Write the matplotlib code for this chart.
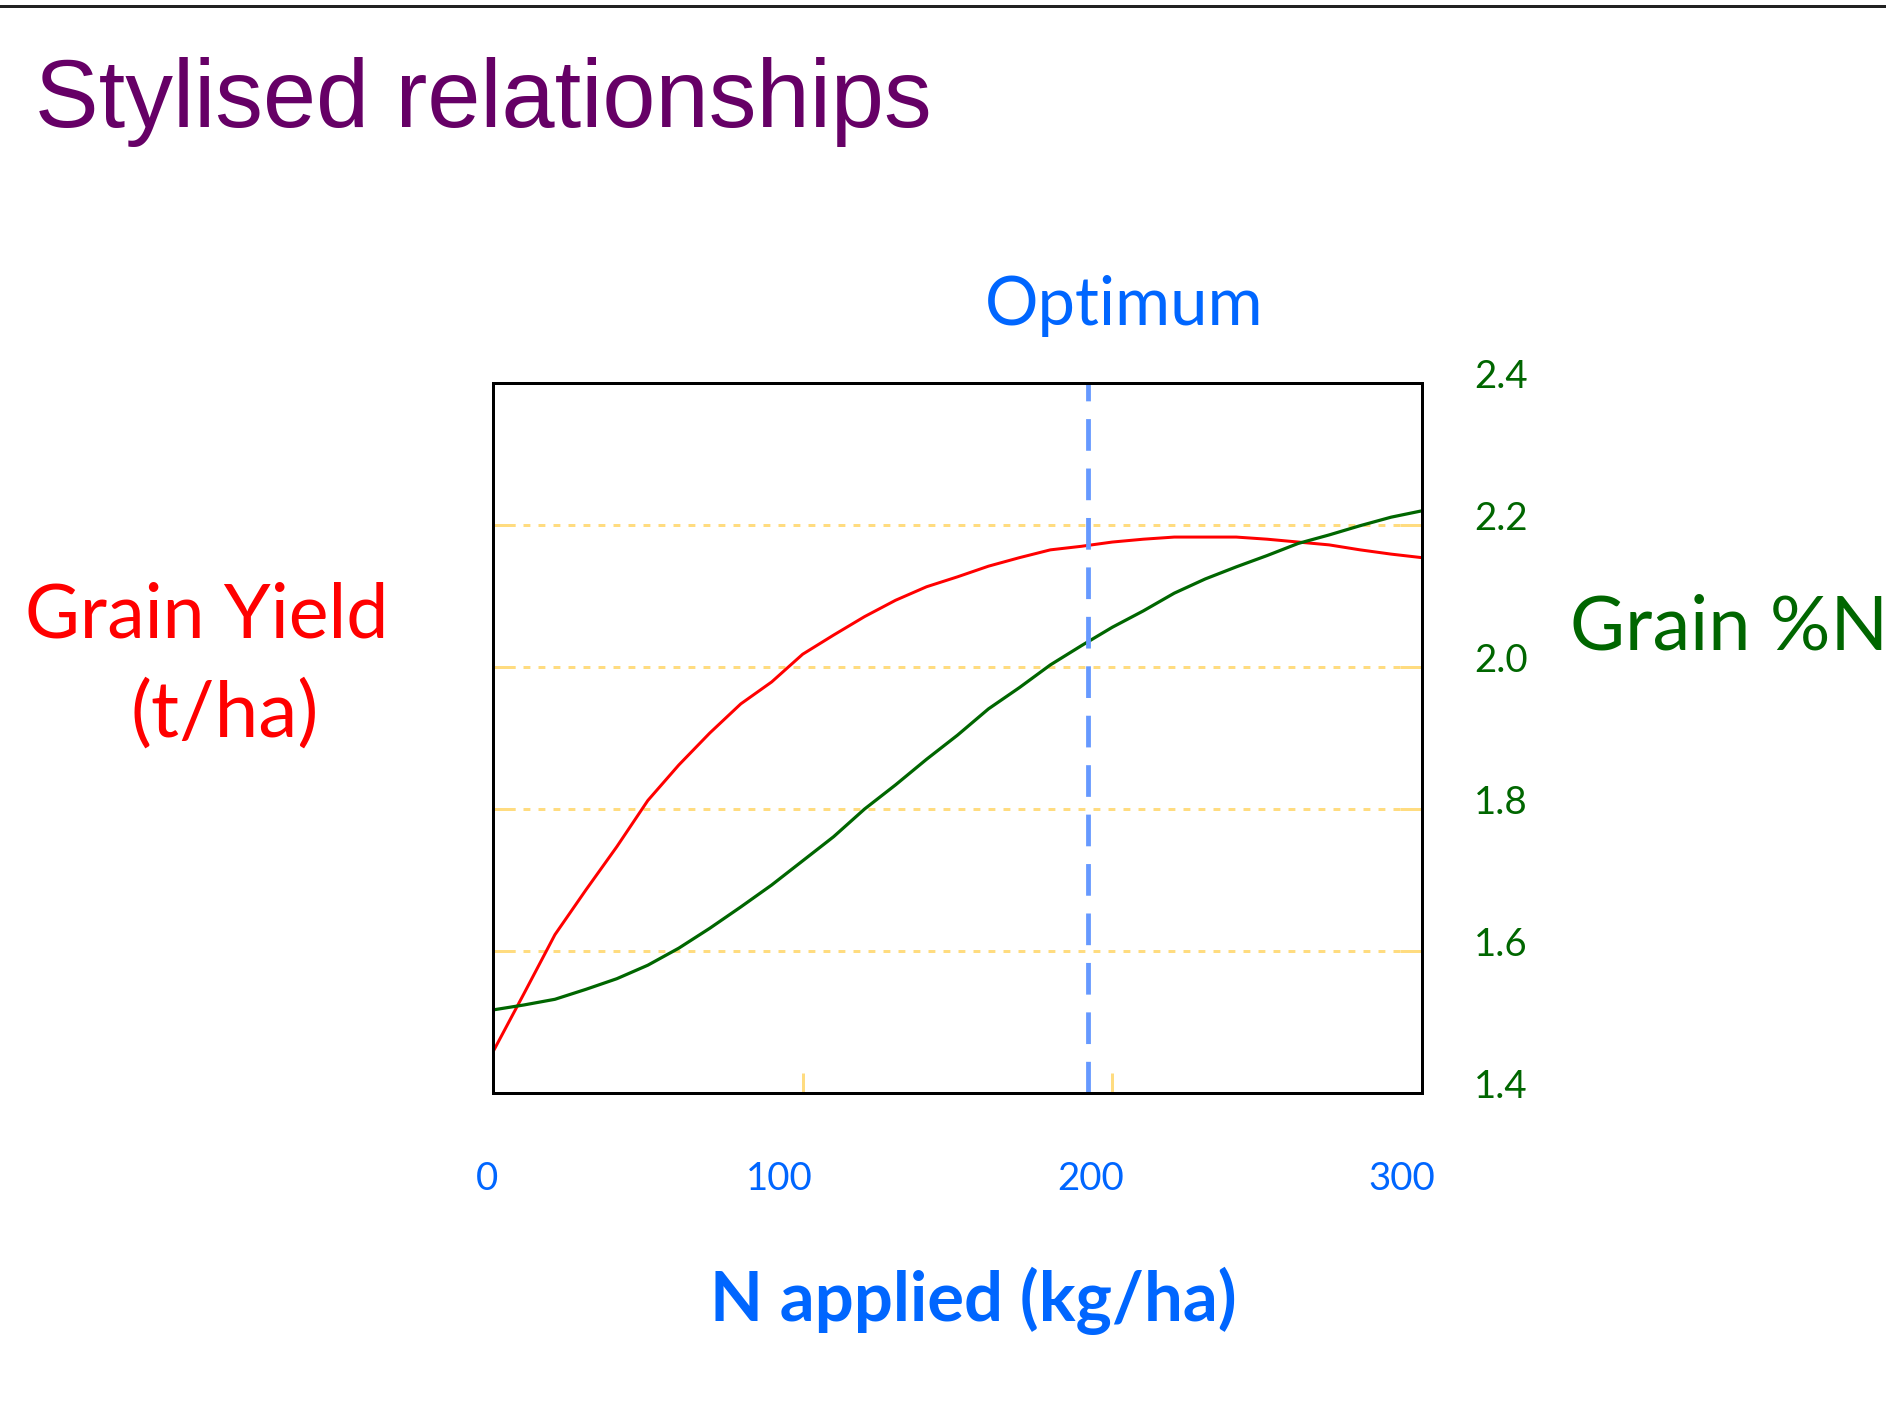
import matplotlib
matplotlib.use("Agg")
import matplotlib.pyplot as plt
from matplotlib.lines import Line2D
from matplotlib.transforms import ScaledTranslation

# ---------------- data ----------------
n_applied = [0, 10, 20, 30, 40, 50, 60, 70, 80, 90, 100, 110, 120, 130, 140, 150,
             160, 170, 180, 190, 200, 210, 220, 230, 240, 250, 260, 270, 280, 290, 300]
# grain yield (no scale on the chart: plotted in the same vertical units as the grid)
grain_yield = [1.458, 1.540, 1.623, 1.686, 1.747, 1.812, 1.862, 1.907, 1.948, 1.979,
               2.018, 2.045, 2.071, 2.094, 2.113, 2.127, 2.142, 2.154, 2.165, 2.170,
               2.176, 2.180, 2.183, 2.183, 2.183, 2.180, 2.176, 2.172, 2.165, 2.159, 2.154]
grain_pct_n = [1.517, 1.524, 1.532, 1.546, 1.561, 1.580, 1.604, 1.632, 1.662, 1.693,
               1.727, 1.761, 1.800, 1.834, 1.870, 1.904, 1.941, 1.971, 2.003, 2.030,
               2.056, 2.079, 2.104, 2.124, 2.141, 2.157, 2.174, 2.186, 2.199, 2.211, 2.220]
optimum_n = 192
x_ticks = [0, 100, 200, 300]
x_tick_labels = ["0", "100", "200", "300"]
y_ticks = [1.4, 1.6, 1.8, 2.0, 2.2, 2.4]
y_tick_labels = ["1.4", "1.6", "1.8", "2.0", "2.2", "2.4"]

# ---------------- figure ----------------
W, H, DPI = 1886, 1417, 100
fig = plt.figure(figsize=(W / DPI, H / DPI), dpi=DPI)
fig.patch.set_facecolor("white")
PT = 72.0 / DPI  # points per pixel

def fx(x):
    return x / W

def fy(y):
    return 1 - y / H

L, R, T, B = 493, 1422, 383, 1093
ax = fig.add_axes([fx(L), fy(B), (R - L) / W, (B - T) / H])
ax.set_xlim(0, 300)
ax.set_ylim(1.4, 2.4)

YELLOW = "#FFDC80"
RED = "#FF0000"
GREEN = "#006600"
BLUE_TXT = "#0066FF"
BLUE_LINE = "#6699FF"
PURPLE = "#660066"

ax.set_axisbelow(True)
ax.yaxis.grid(True, color=YELLOW, linewidth=3 * PT, linestyle=(0, (2.3, 2.7)))
ax.xaxis.grid(False)

ax.plot(n_applied, grain_yield, color=RED, linewidth=3 * PT, zorder=3)
ax.plot(n_applied, grain_pct_n, color=GREEN, linewidth=3.2 * PT, zorder=3)
ax.axvline(optimum_n, color=BLUE_LINE, linewidth=4.8 * PT,
           linestyle=(0, (6.6, 3.7)), zorder=4)

for s in ax.spines.values():
    s.set_color("black")
    s.set_linewidth(3 * PT)
    s.set_zorder(5)

ax.set_xticks(x_ticks)
ax.set_xticklabels(x_tick_labels)
ax.set_yticks(y_ticks)
ax.set_yticklabels(y_tick_labels)

ax.tick_params(axis="x", direction="in", length=20 * PT, width=3 * PT, color=YELLOW,
               pad=68 * PT, labelsize=38.5 * PT, labelcolor=BLUE_TXT)
ax.tick_params(axis="y", direction="in", length=22 * PT, width=3 * PT, color=YELLOW,
               left=True, right=True, labelleft=False, labelright=True,
               pad=52 * PT, labelsize=38.5 * PT, labelcolor=GREEN)
for lab in ax.get_xticklabels() + ax.get_yticklabels():
    lab.set_fontfamily(["Lato", "DejaVu Sans"])

ax.xaxis.get_major_ticks()[3].tick1line.set_visible(False)

# small offsets of the tick labels as placed in the original slide (pixels)
x_label_shift_px = [-6, -23, -22, -20]
for lab, dx in zip(ax.get_xticklabels(), x_label_shift_px):
    lab.set_transform(lab.get_transform() + ScaledTranslation(dx / DPI, 0, fig.dpi_scale_trans))
for lab in ax.get_yticklabels():
    lab.set_transform(lab.get_transform() + ScaledTranslation(0, 9 / DPI, fig.dpi_scale_trans))

# top rule
fig.add_artist(Line2D([0, 1], [fy(6), fy(6)], transform=fig.transFigure,
                      color="#222222", linewidth=3 * PT))

renderer = fig.canvas.get_renderer()

def fit_text(x, y, s, width, measure=None, **kw):
    t = fig.text(fx(x), fy(y), s, ha="left", va="baseline", fontsize=40, **kw)
    if measure is None:
        m = t
    else:
        m = fig.text(0, 0, measure, fontsize=40, **kw)
    w = m.get_window_extent(renderer).width
    t.set_fontsize(40 * width / w)
    if measure is not None:
        m.remove()
    return t

CAL = ["Lato", "DejaVu Sans"]
fit_text(35, 127, "Stylised relationships", 897, color=PURPLE,
         fontfamily=["Liberation Sans", "DejaVu Sans"])
fit_text(985, 325, "Optimum", 278, color=BLUE_TXT, fontfamily=CAL)
fit_text(25, 637, "Grain Yield", 363, color=RED, fontfamily=CAL)
fit_text(130, 737, "(t/ha)", 188, color=RED, fontfamily=CAL)
fit_text(1570, 650, "Grain %N", 318, color=GREEN, fontfamily=CAL)
fit_text(710, 1321, "N applied (kg/ha)", 527, color=BLUE_TXT, fontfamily=CAL,
         fontweight="bold")

fig.savefig("out.png", dpi=DPI, facecolor="white")
